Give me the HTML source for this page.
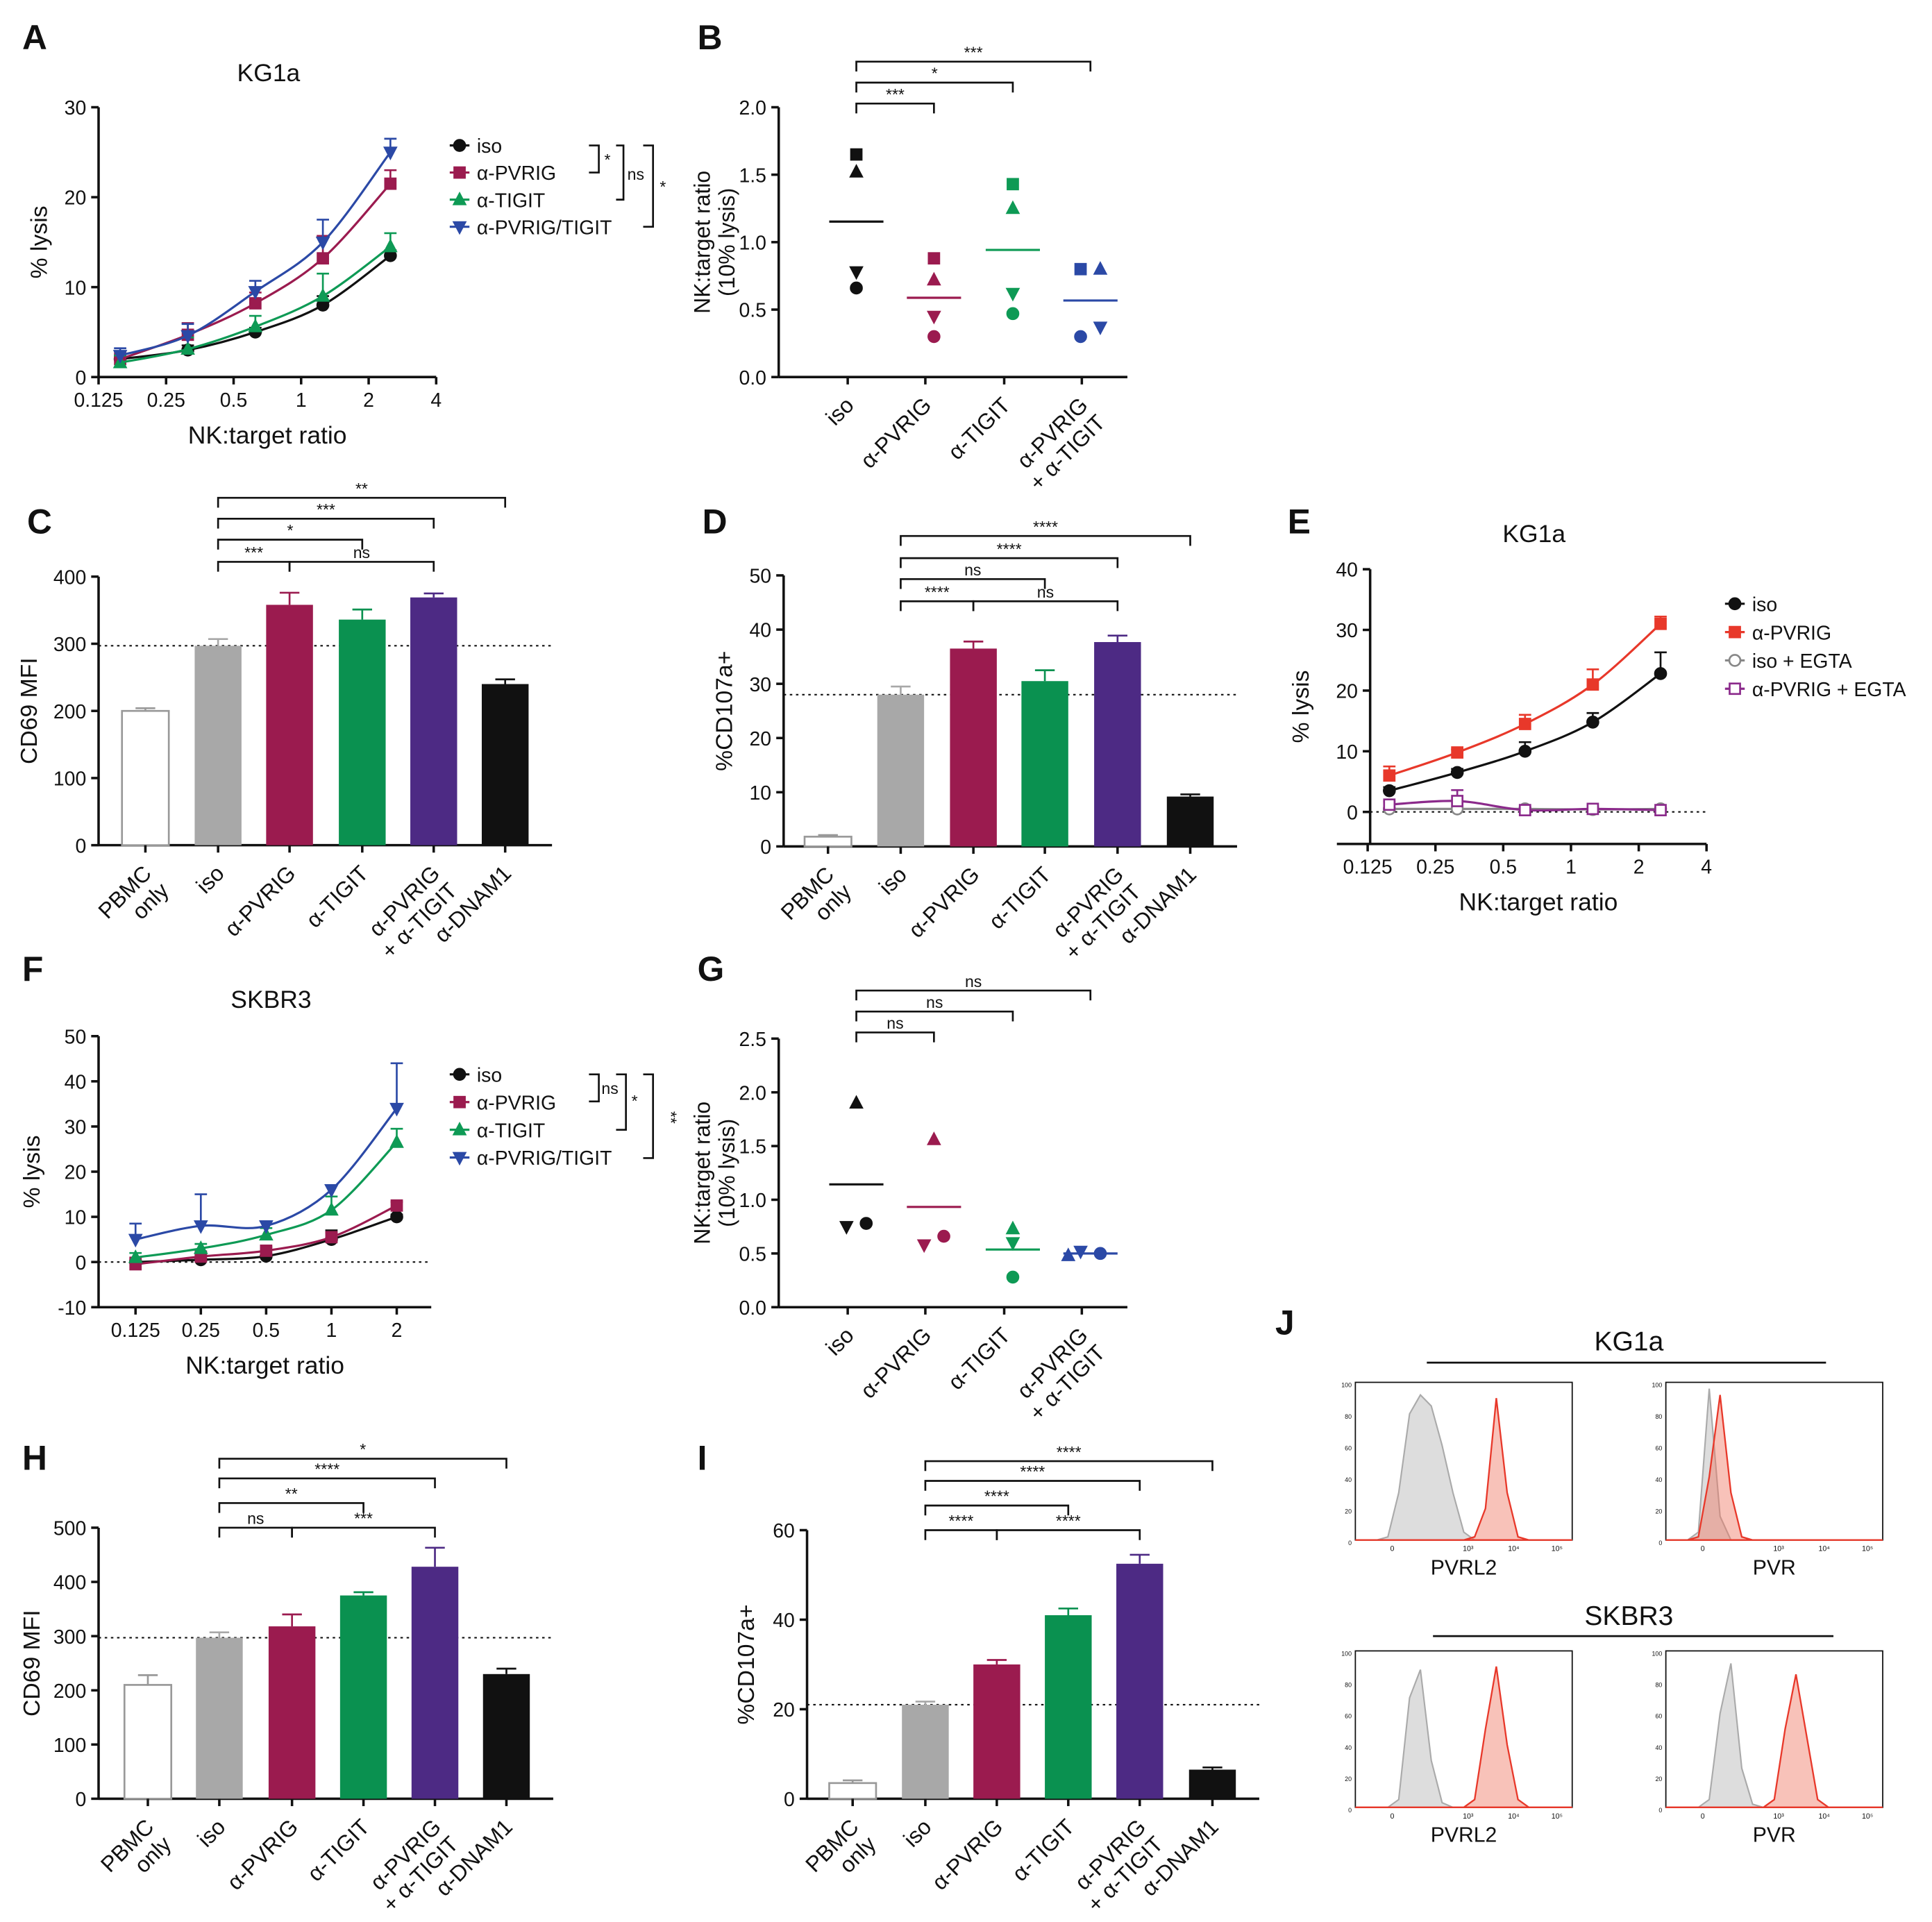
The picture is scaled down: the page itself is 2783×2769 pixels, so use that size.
<!DOCTYPE html>
<html><head><meta charset="utf-8"><style>
html,body{margin:0;padding:0;background:#fff}
svg{display:block}
text{font-family:"Liberation Sans",sans-serif;fill:#111}
</style></head><body>
<svg id="fig" width="2783" height="2769" viewBox="0 0 1568 1560" xmlns="http://www.w3.org/2000/svg"></svg>
<script>
// ---------- DATA ----------
const lineXs = [0.156, 0.3125, 0.625, 1.25, 2.5];
const aIso = [2, 3, 5, 8, 13.5];
const aPvrig = [2, 4.7, 8.2, 13.2, 21.5];
const aTigit = [1.6, 3.1, 5.6, 9, 14.5];
const aBoth = [2.4, 4.6, 9.5, 15, 25];
const aErr = [0.8, 1.3, 1.2, 2.5, 1.5];
const bIso = [1.65, 1.52, 0.78, 0.66];
const bPvrig = [0.88, 0.72, 0.45, 0.30];
const bTigit = [1.43, 1.25, 0.62, 0.47];
const bBoth = [0.80, 0.80, 0.37, 0.30];
const catLabels4 = ["iso", "α-PVRIG", "α-TIGIT", "α-PVRIG|+ α-TIGIT"];
const catLabels6 = ["PBMC|only", "iso", "α-PVRIG", "α-TIGIT", "α-PVRIG|+ α-TIGIT", "α-DNAM1"];
const cVals = [200, 297, 358, 336, 369, 240];
const cErrs = [4, 10, 18, 15, 6, 7];
const dVals = [1.8, 28, 36.5, 30.5, 37.7, 9.2];
const dErrs = [0.3, 1.5, 1.3, 2, 1.2, 0.4];
const eIso = [3.5, 6.5, 10, 14.8, 22.8];
const ePvrig = [6, 9.8, 14.5, 21, 31];
const eIsoEgta = [0.5, 0.5, 0.5, 0.4, 0.5];
const ePvrigEgta = [1.2, 1.8, 0.3, 0.5, 0.3];
const fXs = [0.125, 0.25, 0.5, 1, 2];
const fIso = [0, 0.5, 1.3, 5, 10];
const fPvrig = [-0.5, 1.2, 2.5, 5.5, 12.5];
const fTigit = [1, 3, 6, 11.5, 26.5];
const fBoth = [5, 8, 8, 16, 34];
const fErrBoth = [3.5, 7, 1, 1, 10];
const gIso = [1.9, 0.75, 0.78];
const gPvrig = [1.56, 0.58, 0.66];
const gTigit = [0.73, 0.60, 0.28];
const gBoth = [0.48, 0.52, 0.50];
const hVals = [210, 297, 318, 375, 428, 230];
const hErrs = [18, 10, 22, 6, 35, 10];
const iVals = [3.5, 21, 30, 41, 52.5, 6.5];
const iErrs = [0.6, 0.7, 1, 1.5, 2, 0.5];
const histBins = [0,0.05,0.1,0.15,0.2,0.25,0.3,0.35,0.4,0.45,0.5,0.55,0.6,0.65,0.7,0.75,0.8,0.85,0.9,0.95,1];
const kg1aPvrl2Iso = [0,0,0,2,30,80,92,85,60,30,5,0,0,0,0,0,0,0,0,0,0];
const kg1aPvrl2Ab = [0,0,0,0,0,0,0,0,0,0,0,2,20,90,30,2,0,0,0,0,0];
const kg1aPvrIso = [0,0,0,5,96,15,0,0,0,0,0,0,0,0,0,0,0,0,0,0,0];
const kg1aPvrAb = [0,0,0,2,40,92,30,2,0,0,0,0,0,0,0,0,0,0,0,0,0];
const skPvrl2Iso = [0,0,0,0,5,70,88,30,3,0,0,0,0,0,0,0,0,0,0,0,0];
const skPvrl2Ab = [0,0,0,0,0,0,0,0,0,0,0,5,50,90,40,5,0,0,0,0,0];
const skPvrIso = [0,0,0,0,5,60,92,25,2,0,0,0,0,0,0,0,0,0,0,0,0];
const skPvrAb = [0,0,0,0,0,0,0,0,0,0,5,50,85,45,5,0,0,0,0,0,0];

const C_ISO='#111', C_PV='#9b1b4f', C_TI='#0e9a55', C_BO='#2b49a6', C_PU='#4d2a84', C_RED='#e8382a';
const barCols=['#fff','#a8a8a8',C_PV,'#0a9150',C_PU,'#111'];
const svg=document.getElementById('fig');
const NS='http://www.w3.org/2000/svg';
function el(tag,at,parent,name,inter){
  const e=document.createElementNS(NS,tag);
  for(const k in at)e.setAttribute(k,at[k]);
  
  
  (parent||svg).appendChild(e);return e;
}
function txt(x,y,s,size,parent,name,opt){
  opt=opt||{};
  const t=el('text',{x:x,y:y,'font-size':size,'text-anchor':opt.anchor||'middle',transform:opt.tr||'','font-weight':opt.bold?'bold':'normal'},parent,name);
  t.textContent=s;return t;
}
function letter(x,y,s){txt(x,y,s,28,svg,'panel-label-'+s.toLowerCase(),{bold:true,anchor:'start'}).setAttribute('fill','#555');}
function marker(g,x,y,type,col,open,s){
  s=s||5;const f=open?'#fff':col;let m;
  if(type==='c')m=el('circle',{cx:x,cy:y,r:s*0.9,fill:f,stroke:col,'stroke-width':1.5},g,'marker-circle');
  else if(type==='s')m=el('rect',{x:x-s*0.85,y:y-s*0.85,width:s*1.7,height:s*1.7,fill:f,stroke:col,'stroke-width':1.5},g,'marker-square');
  else if(type==='t')m=el('polygon',{points:`${x},${y-s*1.1} ${x-s},${y+s*0.8} ${x+s},${y+s*0.8}`,fill:f,stroke:col},g,'marker-triangle');
  else m=el('polygon',{points:`${x},${y+s*1.1} ${x-s},${y-s*0.8} ${x+s},${y-s*0.8}`,fill:f,stroke:col},g,'marker-triangle-down');
  return m;
}
function yAxis(g,x,yS,ticks,fmt,y0,y1,title,tx,tsize){
  el('line',{x1:x,y1:y0,x2:x,y2:y1,stroke:'#111','stroke-width':2},g,'y-axis-line');
  ticks.forEach(v=>{const y=yS(v);
    el('line',{x1:x-6,y1:y,x2:x,y2:y,stroke:'#111','stroke-width':2},g,'y-tick');
    txt(x-10,y+6,fmt(v),16,g,'y-tick-label',{anchor:'end'});});
  if(title){const ys=(y0+y1)/2;const parts=title.split('|');
    parts.forEach((p,i)=>txt(tx+i*20,ys,p,tsize||19,g,'y-axis-title',{tr:`rotate(-90 ${tx+i*20} ${ys})`}));}
}
function smooth(pts){
  let d=`M${pts[0][0]},${pts[0][1]}`;
  for(let i=0;i<pts.length-1;i++){
    const p0=pts[Math.max(0,i-1)],p1=pts[i],p2=pts[i+1],p3=pts[Math.min(pts.length-1,i+2)];
    d+=` C${p1[0]+(p2[0]-p0[0])/6},${p1[1]+(p2[1]-p0[1])/6} ${p2[0]-(p3[0]-p1[0])/6},${p2[1]-(p3[1]-p1[1])/6} ${p2[0]},${p2[1]}`;
  }return d;
}
function series(g,xs,vals,errs,xS,yS,col,mk,open,name){
  const sg=el('g',{},g,name);
  const pts=xs.map((x,i)=>[xS(x),yS(vals[i])]);
  el('path',{d:smooth(pts),fill:'none',stroke:col,'stroke-width':1.8},sg,name+'-fit');
  pts.forEach((p,i)=>{const e=errs?errs[i]:0;if(e>0){const ye=yS(vals[i]+e);
    el('line',{x1:p[0],y1:p[1],x2:p[0],y2:ye,stroke:col,'stroke-width':1.5},sg,'error-bar');
    el('line',{x1:p[0]-5,y1:ye,x2:p[0]+5,y2:ye,stroke:col,'stroke-width':1.5},sg,'error-cap');}
    marker(sg,p[0],p[1],mk,col,open,5);});
}
function legend(g,x,y,items,dy){
  items.forEach((it,i)=>{const yy=y+i*dy;const lg=el('g',{},g,'legend-entry');
    el('line',{x1:x,y1:yy,x2:x+16,y2:yy,stroke:it[1],'stroke-width':1.8},lg,'legend-line');
    marker(lg,x+8,yy,it[2],it[1],it[3],5);
    txt(x+22,yy+6,it[0],16,lg,'legend-label',{anchor:'start'});});
}
function bracket(g,x1,x2,y,lab){
  el('path',{d:`M${x1},${y+8}V${y}H${x2}V${y+8}`,fill:'none',stroke:'#111','stroke-width':1.5},g,'significance-bracket');
  txt((x1+x2)/2,y-3,lab,13,g,'significance-label');
}
function catLabels(g,xs,labels,y){
  labels.forEach((l,i)=>{const parts=l.split('|');
    parts.forEach((p,j)=>{const x=xs[i]+6+j*14,yy=y+10+j*14;
      txt(x,yy,p,18,g,'category-label',{anchor:'end',tr:`rotate(-45 ${x} ${yy})`});});});
}
function linPanel(name,cfg){
  const g=el('g',{},svg,name);
  const yS=v=>cfg.yb+(v-cfg.vmin)/(cfg.vmax-cfg.vmin)*(cfg.yt-cfg.yb);
  const xS=v=>cfg.x0+(Math.log2(v)-Math.log2(cfg.lmin))*cfg.oct;
  yAxis(g,cfg.ax,yS,cfg.yt_ticks,v=>v,cfg.yt,cfg.yaxisBot||cfg.yb,cfg.ytitle,cfg.tx);
  const xb=cfg.xaxisY||cfg.yb;
  el('line',{x1:cfg.xstart||cfg.ax,y1:xb,x2:cfg.xend,y2:xb,stroke:'#111','stroke-width':2},g,'x-axis-line');
  cfg.xticks.forEach(v=>{const x=xS(v);el('line',{x1:x,y1:xb,x2:x,y2:xb+6,stroke:'#111','stroke-width':2},g,'x-tick');
    txt(x,xb+24,String(v),16,g,'x-tick-label');});
  if(cfg.zero)el('line',{x1:cfg.ax,y1:yS(0),x2:cfg.xend,y2:yS(0),stroke:'#111','stroke-dasharray':'2,3','stroke-width':1.2},g,'zero-line');
  txt((cfg.ax+cfg.xend)/2,xb+54,'NK:target ratio',20,g,'x-axis-title');
  if(cfg.title)txt(cfg.titleX,cfg.titleY,cfg.title,20,g,'chart-title');
  cfg.series.forEach(s=>series(g,cfg.xs,s[0],s[1],xS,yS,s[2],s[3],s[4],s[5]));
  return g;
}
function barPanel(name,cfg){
  const g=el('g',{},svg,name);
  const yS=v=>cfg.yb+v/cfg.vmax*(cfg.yt-cfg.yb);
  yAxis(g,cfg.ax,yS,cfg.ticks,v=>v,cfg.yt,cfg.yb,cfg.ytitle,cfg.tx);
  el('line',{x1:cfg.ax,y1:cfg.yb,x2:cfg.xs[5]+38,y2:cfg.yb,stroke:'#111','stroke-width':2},g,'x-axis-line');
  el('line',{x1:cfg.ax,y1:yS(cfg.vals[1]),x2:cfg.xs[5]+38,y2:yS(cfg.vals[1]),stroke:'#111','stroke-dasharray':'2,3','stroke-width':1.2},g,'iso-reference-line');
  cfg.vals.forEach((v,i)=>{const x=cfg.xs[i],y=yS(v),col=barCols[i],ec=i===0?'#999':col;
    el('rect',{x:x-19,y:y,width:38,height:cfg.yb-y,fill:col,stroke:i===0?'#999':'none','stroke-width':1.5},g,'bar-'+i);
    const ye=yS(v+cfg.errs[i]);
    el('line',{x1:x,y1:y,x2:x,y2:ye,stroke:ec,'stroke-width':1.5},g,'error-bar');
    el('line',{x1:x-8,y1:ye,x2:x+8,y2:ye,stroke:ec,'stroke-width':1.5},g,'error-cap');
    el('line',{x1:x,y1:cfg.yb,x2:x,y2:cfg.yb+6,stroke:'#111','stroke-width':2},g,'x-tick');});
  catLabels(g,cfg.xs,catLabels6,cfg.yb+14);
  cfg.brs.forEach(b=>bracket(g,cfg.xs[b[0]],cfg.xs[b[1]],b[2],b[3]));
  return g;
}
function dotPanel(name,cfg){
  const g=el('g',{},svg,name);
  const yS=v=>cfg.yb+v/cfg.vmax*(cfg.yt-cfg.yb);
  yAxis(g,cfg.ax,yS,cfg.ticks,v=>v.toFixed(1),cfg.yt,cfg.yb,'NK:target ratio|(10% lysis)',576,18);
  el('line',{x1:cfg.ax,y1:cfg.yb,x2:915,y2:cfg.yb,stroke:'#111','stroke-width':2},g,'x-axis-line');
  const xs=[695,758,822,885],cols=[C_ISO,C_PV,C_TI,C_BO];
  cfg.data.forEach((arr,i)=>{
    el('line',{x1:xs[i]-7,y1:cfg.yb,x2:xs[i]-7,y2:cfg.yb+6,stroke:'#111','stroke-width':2},g,'x-tick');
    const mean=arr.reduce((a,b)=>a+b,0)/arr.length;
    el('line',{x1:xs[i]-22,y1:yS(mean),x2:xs[i]+22,y2:yS(mean),stroke:cols[i],'stroke-width':1.8},g,'mean-line');
    arr.forEach((v,j)=>marker(g,xs[i]+cfg.off[i][j],yS(v),cfg.mk[j],cols[i],false,5));});
  catLabels(g,xs.map(x=>x-7),catLabels4,cfg.yb+14);
  cfg.brs.forEach(b=>bracket(g,xs[0],xs[b[0]],b[1],b[2]));
  return g;
}
function histo(name,x,y,w,h,iso,ab,lab){
  const g=el('g',{},svg,name);
  el('rect',{x:x,y:y,width:w,height:h,fill:'none',stroke:'#111','stroke-width':1},g,'histogram-frame');
  const mk=arr=>{let d=`M${x},${y+h}`;histBins.forEach((b,i)=>{d+=` L${x+b*w},${y+h-arr[i]/100*h}`});return d+` L${x+w},${y+h}Z`;};
  el('path',{d:mk(iso),fill:'#ddd',stroke:'#aaa','stroke-width':1.2},g,'isotype-histogram');
  el('path',{d:mk(ab),fill:'rgba(240,120,100,0.45)',stroke:C_RED,'stroke-width':1.3},g,'antibody-histogram');
  ['100','80','60','40','20','0'].forEach((t,i)=>txt(x-3,y+4+i*h/5,t,5,g,'y-tick-label',{anchor:'end'}));
  ['0','10³','10⁴','10⁵'].forEach((t,i)=>txt(x+[0.17,0.52,0.73,0.93][i]*w,y+h+9,t,6,g,'x-tick-label'));
  txt(x+w/2,y+h+28,lab,17,g,'x-axis-title');
}

// ---------- PANELS ----------
letter(18,40,'A');letter(566,40,'B');letter(22,433,'C');letter(570,433,'D');letter(1045,433,'E');
letter(18,796,'F');letter(566,796,'G');letter(18,1193,'H');letter(566,1193,'I');letter(1035,1083,'J');

const A=linPanel('panel-a',{x0:80,lmin:0.125,oct:54.8,ax:80,xend:354,yt:87,yb:306,vmin:0,vmax:30,yt_ticks:[0,10,20,30],
  ytitle:'% lysis',tx:38,xticks:[0.125,0.25,0.5,1,2,4],title:'KG1a',titleX:218,titleY:66,xs:lineXs,
  series:[[aIso,aErr.map(e=>e*0.4),C_ISO,'c',false,'series-iso'],[aPvrig,aErr,C_PV,'s',false,'series-pvrig'],
          [aTigit,aErr,C_TI,'t',false,'series-tigit'],[aBoth,aErr,C_BO,'d',false,'series-pvrig-tigit']]});
legend(A,365,118,[['iso',C_ISO,'c'],['α-PVRIG',C_PV,'s'],['α-TIGIT',C_TI,'t'],['α-PVRIG/TIGIT',C_BO,'d']],22);
el('path',{d:'M478,118H486V140H478',fill:'none',stroke:'#111','stroke-width':1.5},A,'bracket');txt(493,134,'*',13,A,'sig');
el('path',{d:'M500,118H506V162H500',fill:'none',stroke:'#111','stroke-width':1.5},A,'bracket');txt(516,146,'ns',13,A,'sig');
el('path',{d:'M522,118H530V184H522',fill:'none',stroke:'#111','stroke-width':1.5},A,'bracket');txt(538,156,'*',13,A,'sig');

dotPanel('panel-b',{ax:632,yt:87,yb:306,vmax:2.0,ticks:[0,0.5,1,1.5,2],data:[bIso,bPvrig,bTigit,bBoth],
  mk:['s','t','d','c'],off:[[0,0,0,0],[0,0,0,0],[0,0,0,0],[-8,8,8,-8]],brs:[[1,84,'***'],[2,67,'*'],[3,50,'***']]});

barPanel('panel-c',{ax:80,yt:468,yb:686,vmax:400,ticks:[0,100,200,300,400],ytitle:'CD69 MFI',tx:30,
  xs:[118,177,235,294,352,410],vals:cVals,errs:cErrs,brs:[[1,2,456,'***'],[2,4,456,'ns'],[1,3,438,'*'],[1,4,421,'***'],[1,5,404,'**']]});
barPanel('panel-d',{ax:636,yt:467,yb:687,vmax:50,ticks:[0,10,20,30,40,50],ytitle:'%CD107a+',tx:594,
  xs:[672,731,790,848,907,966],vals:dVals,errs:dErrs,brs:[[1,2,488,'****'],[2,4,488,'ns'],[1,3,470,'ns'],[1,4,453,'****'],[1,5,435,'****']]});

const E=linPanel('panel-e',{x0:1110,lmin:0.125,oct:55,ax:1112,xstart:1085,xend:1385,yt:462,yb:659,yaxisBot:685,xaxisY:685,vmin:0,vmax:40,yt_ticks:[0,10,20,30,40],
  ytitle:'% lysis',tx:1062,xticks:[0.125,0.25,0.5,1,2,4],title:'KG1a',titleX:1245,titleY:440,xs:lineXs,zero:true,
  series:[[eIso,[0.6,0.6,1.5,1.5,3.5],C_ISO,'c',false,'series-iso'],[ePvrig,[1.5,0.5,1.5,2.5,1.2],C_RED,'s',false,'series-pvrig'],
          [eIsoEgta,[0,0,0,0,0],'#888','c',true,'series-iso-egta'],[ePvrigEgta,[0.5,1.8,0.5,0.3,0.3],'#8b2a8b','s',true,'series-pvrig-egta']]});
legend(E,1400,490,[['iso',C_ISO,'c'],['α-PVRIG',C_RED,'s'],['iso + EGTA','#888','c',true],['α-PVRIG + EGTA','#8b2a8b','s',true]],23);

const F=linPanel('panel-f',{x0:110,lmin:0.125,oct:53,ax:80,xend:350,yt:841,yb:1061,vmin:-10,vmax:50,yt_ticks:[-10,0,10,20,30,40,50],
  ytitle:'% lysis',tx:32,xticks:[0.125,0.25,0.5,1,2],title:'SKBR3',titleX:220,titleY:818,xs:fXs,zero:true,
  series:[[fIso,[0.5,1,0.5,2,0.5],C_ISO,'c',false,'series-iso'],[fPvrig,[1.5,1,0.8,1,0.8],C_PV,'s',false,'series-pvrig'],
          [fTigit,[1,1,1.5,3,3],C_TI,'t',false,'series-tigit'],[fBoth,fErrBoth,C_BO,'d',false,'series-pvrig-tigit']]});
legend(F,365,872,[['iso',C_ISO,'c'],['α-PVRIG',C_PV,'s'],['α-TIGIT',C_TI,'t'],['α-PVRIG/TIGIT',C_BO,'d']],22.5);
el('path',{d:'M478,872H486V894H478',fill:'none',stroke:'#111','stroke-width':1.5},F,'bracket');txt(495,888,'ns',13,F,'sig');
el('path',{d:'M500,872H508V917H500',fill:'none',stroke:'#111','stroke-width':1.5},F,'bracket');txt(515,898,'*',13,F,'sig');
el('path',{d:'M522,872H530V940H522',fill:'none',stroke:'#111','stroke-width':1.5},F,'bracket');txt(540,907,'**',13,F,'sig',{tr:'rotate(90 540 907)'});

dotPanel('panel-g',{ax:632,yt:843,yb:1061,vmax:2.5,ticks:[0,0.5,1,1.5,2,2.5],data:[gIso,gPvrig,gTigit,gBoth],
  mk:['t','d','c'],off:[[0,-8,8],[0,-8,8],[0,0,0],[-18,-8,8]],brs:[[1,838,'ns'],[2,821,'ns'],[3,804,'ns']]});

barPanel('panel-h',{ax:80,yt:1240,yb:1460,vmax:500,ticks:[0,100,200,300,400,500],ytitle:'CD69 MFI',tx:32,
  xs:[120,178,237,295,353,411],vals:hVals,errs:hErrs,brs:[[1,2,1240,'ns'],[2,4,1240,'***'],[1,3,1220,'**'],[1,4,1200,'****'],[1,5,1184,'*']]});
barPanel('panel-i',{ax:655,yt:1242,yb:1460,vmax:60,ticks:[0,20,40,60],ytitle:'%CD107a+',tx:612,
  xs:[692,751,809,867,925,984],vals:iVals,errs:iErrs,brs:[[1,2,1242,'****'],[2,4,1242,'****'],[1,3,1222,'****'],[1,4,1202,'****'],[1,5,1186,'****']]});

txt(1322,1096,'KG1a',22,svg,'title-kg1a');
el('line',{x1:1158,y1:1106,x2:1482,y2:1106,stroke:'#111','stroke-width':1.5},svg,'kg1a-rule');
txt(1322,1319,'SKBR3',22,svg,'title-skbr3');
el('line',{x1:1163,y1:1328,x2:1488,y2:1328,stroke:'#111','stroke-width':1.5},svg,'skbr3-rule');
histo('hist-kg1a-pvrl2',1100,1122,176,128,kg1aPvrl2Iso,kg1aPvrl2Ab,'PVRL2');
histo('hist-kg1a-pvr',1352,1122,176,128,kg1aPvrIso,kg1aPvrAb,'PVR');
histo('hist-skbr3-pvrl2',1100,1340,176,127,skPvrl2Iso,skPvrl2Ab,'PVRL2');
histo('hist-skbr3-pvr',1352,1340,176,127,skPvrIso,skPvrAb,'PVR');
</script>
</body></html>
